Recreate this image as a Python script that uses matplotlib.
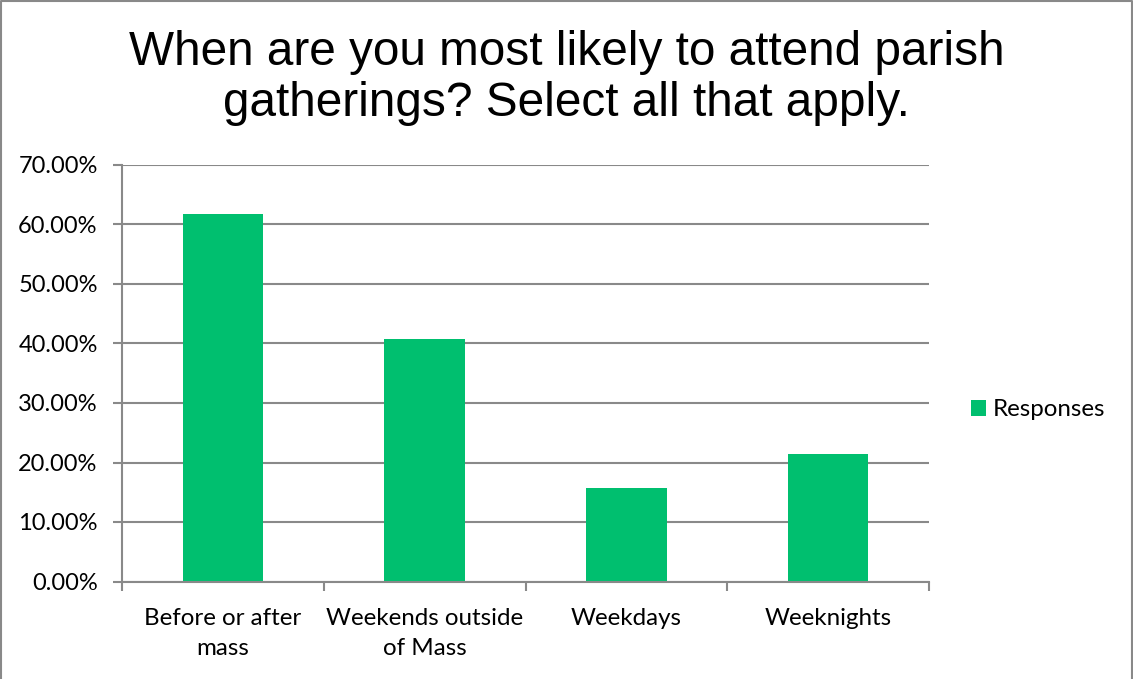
import matplotlib
matplotlib.use("Agg")
import matplotlib.pyplot as plt
from matplotlib.ticker import FuncFormatter, FixedLocator
from matplotlib.lines import Line2D

categories = ["Before or after\nmass", "Weekends outside\nof Mass", "Weekdays", "Weeknights"]
responses = [61.8, 40.8, 15.7, 21.4]
yticks = [0, 10, 20, 30, 40, 50, 60, 70]
title = "When are you most likely to attend parish\ngatherings? Select all that apply."
series_name = "Responses"

W, H = 1133, 679
fig = plt.figure(figsize=(W / 100, H / 100), dpi=100)
ax = fig.add_axes([122 / W, 1 - 581.5 / H, (929 - 122) / W, (581.5 - 165) / H])

gray = "#898989"
green = "#00BF6F"
tick_font = "Lato"
fs = 17.4

x = list(range(len(categories)))
ax.bar(x, responses, width=0.4, color=green, zorder=3, label=series_name)

ax.set_xlim(-0.5, len(categories) - 0.5)
ax.set_ylim(0, 70)
ax.set_yticks(yticks)
ax.yaxis.set_major_formatter(FuncFormatter(lambda v, p: f"{v:.2f}%"))
ax.grid(axis="y", color=gray, linewidth=1.5, zorder=0)

# category boundaries as major ticks, labels on minor ticks at centres
ax.xaxis.set_major_locator(FixedLocator([i - 0.5 for i in range(len(categories) + 1)]))
ax.xaxis.set_major_formatter(FuncFormatter(lambda v, p: ""))
ax.xaxis.set_minor_locator(FixedLocator(x))
ax.set_xticklabels(categories, minor=True)
ax.tick_params(axis="x", which="major", length=6.5, width=1.5, color=gray, direction="out")
ax.tick_params(axis="x", which="minor", length=0, pad=19, labelsize=fs, labelcolor="black")
ax.tick_params(axis="y", which="major", length=6.5, width=1.5, color=gray, pad=11,
               labelsize=17, labelcolor="black")
for lab in ax.get_xticklabels(minor=True) + ax.get_yticklabels():
    lab.set_fontfamily(tick_font)
for lab in ax.get_xticklabels(minor=True):
    lab.set_linespacing(1.52)

for side in ["top", "right"]:
    ax.spines[side].set_visible(False)
for side in ["left", "bottom"]:
    ax.spines[side].set_color(gray)
    ax.spines[side].set_linewidth(1.5)
    ax.spines[side].set_zorder(4)

fig.text(0.5, 1 - 78 / H, title, ha="center", va="center", fontsize=34.4,
         family="Liberation Sans", linespacing=1.16)

fig.legend(loc="center left", bbox_to_anchor=(949 / W, 1 - 410 / H), frameon=False,
           prop={"family": tick_font, "size": fs}, handlelength=0.62, handleheight=0.62,
           handletextpad=0.3)

# chart-area border: left, top and right edges (bottom is cut off in the original)
xl, xr, yt = 0.8 / W, (W - 0.8) / W, (H - 0.8) / H
fig.lines.append(Line2D([xl, xl, xr, xr], [0, yt, yt, 0], transform=fig.transFigure,
                        color=gray, linewidth=1.5))

fig.savefig("out.png", dpi=100, facecolor="white")
